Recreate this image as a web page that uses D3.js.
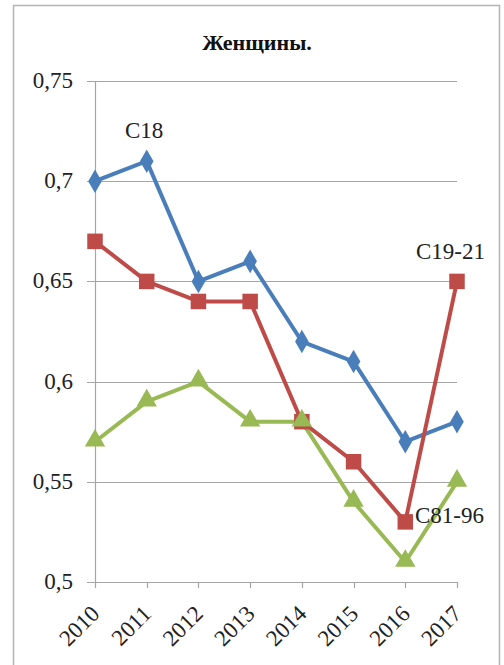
<!DOCTYPE html>
<html>
<head>
<meta charset="utf-8">
<script src="https://cdn.jsdelivr.net/npm/d3@7"></script>
<style>
  html, body { margin: 0; padding: 0; background: #fff; }
  svg { display: block; }
</style>
</head>
<body>
<svg id="chart" width="504" height="665"></svg>
<script>
// Years on the category axis
const years = ["2010", "2011", "2012", "2013", "2014", "2015", "2016", "2017"];
// Series values
const c18 = [0.70, 0.71, 0.65, 0.66, 0.62, 0.61, 0.57, 0.58];
const c1921 = [0.67, 0.65, 0.64, 0.64, 0.58, 0.56, 0.53, 0.65];
const c8196 = [0.57, 0.59, 0.60, 0.58, 0.58, 0.54, 0.51, 0.55];
// Value axis ticks and labels
const yTicks = [0.5, 0.55, 0.6, 0.65, 0.7, 0.75];
const yTickLabels = ["0,5", "0,55", "0,6", "0,65", "0,7", "0,75"];
const title = "Женщины.";

const FONT = "Liberation Serif";
const svg = d3.select("#chart");

// Outer frame
svg.append("rect")
  .attr("x", 13.5).attr("y", 5.5)
  .attr("width", 486).attr("height", 680)
  .attr("fill", "none").attr("stroke", "#b4b4b4").attr("stroke-width", 1.5);

const x = d3.scalePoint().domain(years).range([95, 457]);
const y = d3.scaleLinear().domain([0.5, 0.75]).range([582, 81]);

// Horizontal gridlines
svg.append("g").selectAll("line").data(yTicks).join("line")
  .attr("x1", 87).attr("x2", 457)
  .attr("y1", d => Math.round(y(d)) + 0.5).attr("y2", d => Math.round(y(d)) + 0.5)
  .attr("stroke", "#a6a6a6").attr("stroke-width", 1.2);

// Vertical value-axis line
svg.append("line")
  .attr("x1", 95.5).attr("x2", 95.5)
  .attr("y1", y(0.75)).attr("y2", y(0.5))
  .attr("stroke", "#a6a6a6").attr("stroke-width", 1.2);

// Category tick marks
svg.append("g").selectAll("line").data(years).join("line")
  .attr("x1", d => Math.round(x(d)) + 0.5).attr("x2", d => Math.round(x(d)) + 0.5)
  .attr("y1", y(0.5)).attr("y2", y(0.5) + 6)
  .attr("stroke", "#a6a6a6").attr("stroke-width", 1.2);

// Value tick labels
svg.append("g").selectAll("text").data(yTicks).join("text")
  .attr("x", 73).attr("y", d => y(d) + 7)
  .attr("text-anchor", "end")
  .style("font-family", FONT).attr("font-size", 23).attr("fill", "#222")
  .text((d, i) => yTickLabels[i]);

// Rotated year labels
svg.append("g").selectAll("text").data(years).join("text")
  .attr("transform", d => `translate(${x(d) + 6},${y(0.5) + 33}) rotate(-45)`)
  .attr("text-anchor", "end")
  .style("font-family", FONT).attr("font-size", 23).attr("fill", "#222")
  .text(d => d);

// Title
svg.append("text")
  .attr("x", 257).attr("y", 50)
  .attr("text-anchor", "middle")
  .style("font-family", FONT).attr("font-size", 22).attr("font-weight", "bold")
  .attr("fill", "#111")
  .text(title);

const series = [
  { name: "C18", values: c18, color: "#4a7ebb", symbol: d3.symbolDiamond, size: 160 },
  { name: "C19-21", values: c1921, color: "#be4b48", symbol: d3.symbolSquare, size: 240 },
  { name: "C81-96", values: c8196, color: "#98b954", symbol: d3.symbolTriangle, size: 180 }
];

const line = d3.line().x((d, i) => x(years[i])).y(d => y(d));

series.forEach(s => {
  svg.append("path")
    .datum(s.values)
    .attr("d", line)
    .attr("fill", "none").attr("stroke", s.color)
    .attr("stroke-width", 4).attr("stroke-linejoin", "round");
});

series.forEach(s => {
  const sym = d3.symbol().type(s.symbol).size(s.size);
  svg.append("g").selectAll("path").data(s.values).join("path")
    .attr("transform", (d, i) => {
      const dy = s.symbol === d3.symbolTriangle ? -1 : 0;
      return `translate(${x(years[i])},${y(d) + dy})`;
    })
    .attr("d", sym)
    .attr("fill", s.color);
});

// Series name labels
const seriesLabels = [
  { text: "C18", x: 125, y: 138 },
  { text: "C19-21", x: 416, y: 259 },
  { text: "C81-96", x: 415, y: 523 }
];
svg.append("g").selectAll("text").data(seriesLabels).join("text")
  .attr("x", d => d.x).attr("y", d => d.y)
  .style("font-family", FONT).attr("font-size", 23).attr("fill", "#222")
  .text(d => d.text);
</script>
</body>
</html>
